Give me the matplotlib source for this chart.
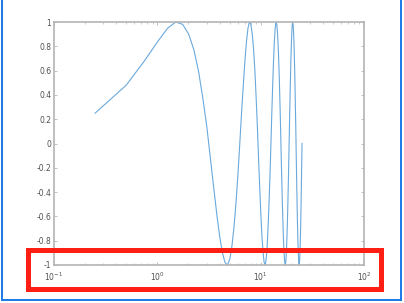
import matplotlib
matplotlib.use("Agg")
import matplotlib.pyplot as plt
from matplotlib.patches import Rectangle
from matplotlib.lines import Line2D
from matplotlib.ticker import LogLocator, FixedLocator

# sample positions (log x axis)
x = [0.25, 0.50, 0.75, 1.01, 1.26, 1.51, 1.76, 2.01, 2.26, 2.51,
     2.76, 3.02, 3.27, 3.52, 3.77, 4.02, 4.27, 4.52, 4.78, 5.03,
     5.28, 5.53, 5.78, 6.03, 6.28, 6.53, 6.79, 7.04, 7.29, 7.54,
     7.79, 8.04, 8.29, 8.55, 8.80, 9.05, 9.30, 9.55, 9.80, 10.05,
     10.30, 10.56, 10.81, 11.06, 11.31, 11.56, 11.81, 12.06, 12.32, 12.57,
     12.82, 13.07, 13.32, 13.57, 13.82, 14.07, 14.33, 14.58, 14.83, 15.08,
     15.33, 15.58, 15.83, 16.08, 16.34, 16.59, 16.84, 17.09, 17.34, 17.59,
     17.84, 18.10, 18.35, 18.60, 18.85, 19.10, 19.35, 19.60, 19.85, 20.11,
     20.36, 20.61, 20.86, 21.11, 21.36, 21.61, 21.87, 22.12, 22.37, 22.62,
     22.87, 23.12, 23.37, 23.62, 23.88, 24.13, 24.38, 24.63, 24.88, 25.13]

y = [0.25, 0.48, 0.68, 0.84, 0.95, 1.00, 0.98, 0.90, 0.77, 0.59,
     0.37, 0.13, -0.13, -0.37, -0.59, -0.77, -0.90, -0.98, -1.00, -0.95,
     -0.84, -0.68, -0.48, -0.25, 0.00, 0.25, 0.48, 0.68, 0.84, 0.95,
     1.00, 0.98, 0.90, 0.77, 0.59, 0.37, 0.13, -0.13, -0.37, -0.59,
     -0.77, -0.90, -0.98, -1.00, -0.95, -0.84, -0.68, -0.48, -0.25, 0.00,
     0.25, 0.48, 0.68, 0.84, 0.95, 1.00, 0.98, 0.90, 0.77, 0.59,
     0.37, 0.13, -0.13, -0.37, -0.59, -0.77, -0.90, -0.98, -1.00, -0.95,
     -0.84, -0.68, -0.48, -0.25, 0.00, 0.25, 0.48, 0.68, 0.84, 0.95,
     1.00, 0.98, 0.90, 0.77, 0.59, 0.37, 0.13, -0.13, -0.37, -0.59,
     -0.77, -0.90, -0.98, -1.00, -0.95, -0.84, -0.68, -0.48, -0.25, 0.00]

yticks = [-1, -0.8, -0.6, -0.4, -0.2, 0, 0.2, 0.4, 0.6, 0.8, 1]
ytick_labels = ["-1", "-0.8", "-0.6", "-0.4", "-0.2", "0", "0.2", "0.4", "0.6", "0.8", "1"]

W, H = 404, 303
fig = plt.figure(figsize=(W / 100, H / 100), dpi=100)
fig.patch.set_facecolor("white")

ax = fig.add_axes([54 / W, 1 - 265 / H, 310 / W, 243 / H])
ax.plot(x, y, color="#6aa9dc", lw=0.8, clip_on=False)
ax.set_xscale("log")
ax.set_xlim(0.1, 100)
ax.set_ylim(-1, 1)

ax.yaxis.set_major_locator(FixedLocator(yticks))
ax.set_yticklabels(ytick_labels)
ax.xaxis.set_major_locator(LogLocator(base=10, numticks=10))
ax.xaxis.set_minor_locator(LogLocator(base=10, subs=range(2, 10), numticks=10))

gray = "#b4b4b4"
for s in ax.spines.values():
    s.set_color(gray)
    s.set_linewidth(1.2)
ax.tick_params(which="both", direction="in", top=True, right=True,
               color=gray, labelsize=5.5, labelcolor="#505050")
ax.tick_params(axis="y", pad=2)
ax.tick_params(axis="x", pad=4)
ax.tick_params(which="major", length=2.5, width=0.6)
ax.tick_params(which="minor", length=1.5, width=0.5)

# red highlight box around the x axis
fig.add_artist(Rectangle((27.5 / W, 1 - 288.5 / H), 353 / W, 39 / H,
                         transform=fig.transFigure, fill=False,
                         edgecolor="#ff1e14", lw=3.6))

# blue frame on left, bottom and right
blue = "#1a7ae8"
fig.add_artist(Line2D([2 / W, 2 / W], [1, 1 - 300 / H], transform=fig.transFigure, color=blue, lw=1.4))
fig.add_artist(Line2D([2 / W, 401 / W], [1 - 300 / H, 1 - 300 / H], transform=fig.transFigure, color=blue, lw=1.4))
fig.add_artist(Line2D([401 / W, 401 / W], [1, 1 - 300 / H], transform=fig.transFigure, color=blue, lw=1.4))

fig.savefig("out.png", dpi=100)
